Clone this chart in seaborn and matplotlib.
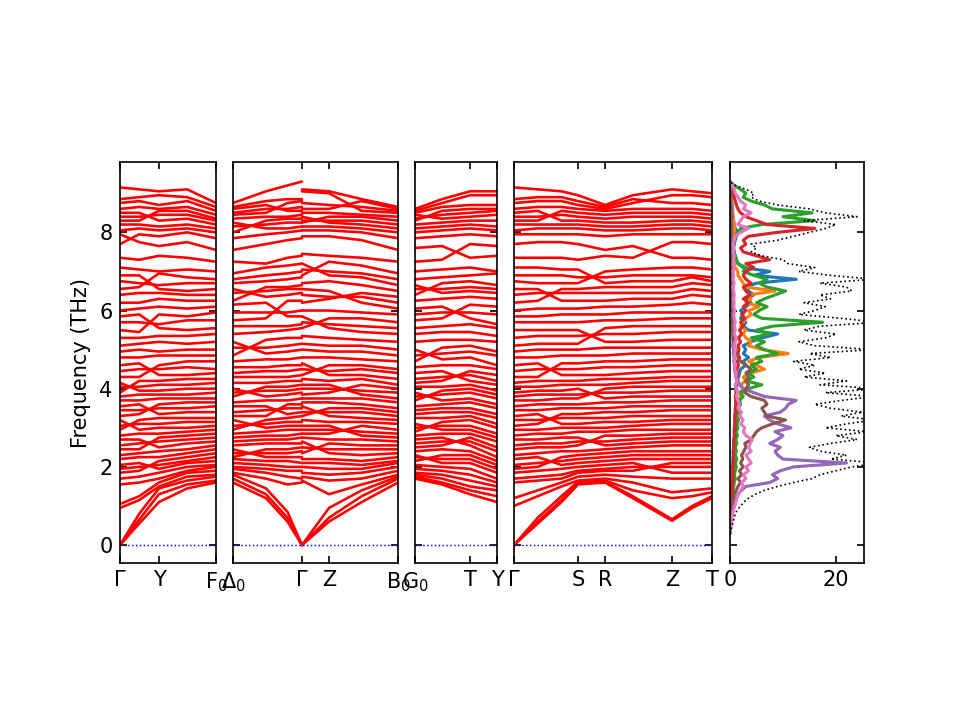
import numpy as np
import pandas as pd
import seaborn as sns
import matplotlib.pyplot as plt

# ---- phonon bands: frequencies (THz) at sampled k-points, one list per k-point ----
# (list position = band index, so crossings are kept)
# panel 1: Gamma -> Y -> F0
p1_k = [0.0, 0.2, 0.406, 0.7, 1.0]
p1_freqs = [
    [0, 0, 0, 0.95, 1.05, 1.55, 1.70, 1.85, 1.95, 2.05, 2.20, 2.30, 2.45, 2.55, 2.70, 2.80, 2.95, 3.05, 3.20, 3.30,
     3.45, 3.55, 3.70, 3.80, 3.90, 4.05, 4.15, 4.30, 4.45, 4.60, 4.80, 4.95, 5.10, 5.30, 5.50, 5.70, 5.85, 6.00,
     6.20, 6.40, 6.55, 6.75, 6.90, 7.10, 7.35, 7.70, 7.95, 8.05, 8.20, 8.30, 8.40, 8.50, 8.60, 8.75, 8.85, 9.15],
    [0.55, 0.65, 0.80, 1.15, 1.25, 1.60, 1.75, 1.90, 2.00, 2.10, 2.25, 2.35, 2.45, 2.60, 2.70, 2.85, 3.20, 3.10,
     2.95, 3.35, 3.45, 3.60, 3.70, 3.85, 4.20, 4.05, 3.95, 4.30, 4.50, 4.65, 4.80, 5.00, 5.15, 5.30, 5.45, 5.70,
     5.90, 6.05, 6.20, 6.45, 6.60, 6.70, 6.90, 7.05, 7.30, 7.95, 7.75, 8.10, 8.20, 8.30, 8.40, 8.50, 8.65, 8.80,
     8.90, 9.10],
    [1.10, 1.30, 1.45, 1.50, 1.60, 1.70, 1.85, 2.15, 2.05, 1.95, 2.25, 2.40, 2.75, 2.65, 2.50, 2.85, 3.25, 3.10,
     3.00, 3.60, 3.50, 3.35, 3.75, 3.85, 4.20, 4.10, 3.95, 4.60, 4.50, 4.35, 4.85, 4.95, 5.20, 5.35, 5.90, 5.65,
     5.55, 6.10, 6.30, 6.45, 6.95, 6.65, 6.55, 7.00, 7.40, 7.90, 7.65, 8.05, 8.15, 8.55, 8.45, 8.30, 8.60, 8.70,
     8.95, 9.05],
    [1.45, 1.55, 1.65, 1.75, 1.85, 1.90, 2.00, 2.25, 2.15, 2.10, 2.35, 2.45, 2.80, 2.70, 2.60, 2.90, 3.25, 3.15,
     3.00, 3.65, 3.50, 3.40, 3.75, 3.85, 4.25, 4.10, 4.00, 4.70, 4.55, 4.35, 4.85, 5.00, 5.15, 5.35, 5.85, 5.75,
     5.50, 6.05, 6.25, 6.40, 6.85, 6.70, 6.50, 7.05, 7.35, 8.00, 7.75, 8.10, 8.20, 8.55, 8.45, 8.35, 8.65, 8.80,
     8.90, 9.10],
    [1.60, 1.65, 1.75, 1.80, 1.90, 2.00, 2.05, 2.35, 2.25, 2.15, 2.45, 2.55, 2.85, 2.75, 2.65, 2.95, 3.25, 3.15,
     3.05, 3.65, 3.55, 3.40, 3.75, 3.90, 4.25, 4.15, 4.00, 4.70, 4.50, 4.40, 4.85, 5.00, 5.20, 5.40, 5.95, 5.75,
     5.55, 6.10, 6.25, 6.40, 6.80, 6.70, 6.55, 7.00, 7.25, 7.85, 7.55, 8.00, 8.10, 8.35, 8.30, 8.20, 8.45, 8.55,
     8.65, 8.75],
]

# panel 2: Delta0 -> Gamma | Gamma -> Z -> B0 (split at Gamma)
p2a_k = [0.0, 0.2, 0.33, 0.418]
p2a_freqs = [
    [1.60, 1.70, 1.80, 1.85, 1.95, 2.00, 2.10, 2.20, 2.25, 2.35, 2.45, 2.55, 2.65, 2.75, 2.85, 2.95, 3.05, 3.20,
     3.30, 3.40, 3.55, 3.65, 3.80, 3.90, 4.00, 4.15, 4.30, 4.40, 4.55, 4.70, 4.85, 5.05, 5.20, 5.40, 5.60, 5.75,
     5.95, 6.15, 6.25, 6.45, 6.55, 6.70, 6.80, 6.95, 7.25, 7.55, 7.85, 8.00, 8.15, 8.25, 8.35, 8.45, 8.50, 8.60,
     8.65, 8.75],
    [1.20, 1.30, 1.45, 1.70, 1.85, 1.95, 2.05, 2.15, 2.45, 2.35, 2.25, 2.60, 2.70, 2.80, 2.90, 3.20, 3.10, 3.00,
     3.30, 3.45, 3.55, 3.70, 4.05, 3.95, 3.80, 4.15, 4.30, 4.45, 4.55, 4.75, 5.25, 5.05, 4.90, 5.45, 5.60, 5.80,
     5.95, 6.20, 6.60, 6.50, 6.35, 6.75, 6.90, 7.10, 7.20, 7.70, 7.95, 8.30, 8.20, 8.10, 8.40, 8.50, 8.60, 8.70,
     8.80, 9.05],
    [0.60, 0.70, 0.85, 1.55, 1.75, 1.90, 2.00, 2.15, 2.45, 2.35, 2.25, 2.60, 2.70, 2.80, 2.95, 3.25, 3.15, 3.05,
     3.60, 3.50, 3.35, 3.70, 4.05, 3.95, 3.85, 4.20, 4.30, 4.45, 4.60, 4.75, 5.30, 5.10, 4.95, 5.50, 5.60, 6.25,
     5.95, 5.85, 6.60, 6.55, 6.40, 6.80, 6.95, 7.15, 7.35, 7.80, 8.00, 8.35, 8.25, 8.10, 8.40, 8.75, 8.60, 8.55,
     8.85, 9.20],
    [0, 0, 0, 1.60, 1.70, 1.90, 2.00, 2.10, 2.50, 2.40, 2.25, 2.60, 2.75, 2.85, 2.95, 3.30, 3.15, 3.05, 3.60,
     3.50, 3.40, 3.75, 4.10, 4.00, 3.90, 4.20, 4.35, 4.50, 4.60, 4.80, 5.30, 5.15, 5.00, 5.55, 5.65, 6.25, 6.00,
     5.85, 6.65, 6.55, 6.45, 6.85, 7.00, 7.20, 7.40, 7.85, 8.05, 8.35, 8.25, 8.15, 8.45, 8.80, 8.65, 8.55, 8.85,
     9.30],
]
p2b_k = [0.418, 0.582, 0.78, 1.0]
p2b_freqs = [
    [0, 0, 0, 1.65, 1.75, 1.85, 2.00, 2.10, 2.20, 2.35, 2.50, 2.65, 2.75, 2.85, 2.95, 3.05, 3.20, 3.30, 3.40,
     3.55, 3.65, 3.75, 3.85, 4.00, 4.10, 4.25, 4.35, 4.50, 4.65, 4.80, 5.00, 5.15, 5.35, 5.55, 5.70, 5.85, 6.00,
     6.20, 6.40, 6.55, 6.70, 6.90, 7.05, 7.20, 7.45, 7.90, 8.05, 8.15, 8.25, 8.30, 8.40, 8.50, 8.60, 8.75, 9.05,
     9.10],
    [0.60, 0.70, 0.95, 1.30, 1.65, 1.80, 1.95, 2.10, 2.20, 2.60, 2.45, 2.35, 2.70, 2.85, 2.95, 3.05, 3.15, 3.50,
     3.40, 3.30, 3.65, 3.75, 3.90, 4.00, 4.10, 4.20, 4.60, 4.45, 4.35, 4.80, 4.95, 5.10, 5.30, 5.80, 5.65, 5.55,
     6.00, 6.30, 6.35, 6.50, 6.75, 7.25, 7.00, 6.90, 7.40, 7.90, 8.05, 8.15, 8.40, 8.30, 8.25, 8.50, 8.60, 8.70,
     9.00, 9.05],
    [1.10, 1.25, 1.40, 1.55, 1.70, 1.85, 1.95, 2.05, 2.15, 2.55, 2.45, 2.30, 2.70, 3.05, 2.90, 2.80, 3.15, 3.50,
     3.40, 3.25, 3.60, 3.75, 4.10, 3.95, 3.85, 4.25, 4.60, 4.50, 4.35, 4.75, 4.95, 5.10, 5.25, 5.80, 5.60, 5.45,
     5.95, 6.45, 6.35, 6.20, 6.65, 7.15, 6.95, 6.85, 7.35, 7.80, 8.00, 8.10, 8.40, 8.30, 8.20, 8.45, 8.80, 8.65,
     8.55, 8.85],
    [1.60, 1.70, 1.75, 1.80, 1.90, 2.00, 2.10, 2.15, 2.25, 2.55, 2.45, 2.35, 2.65, 2.95, 2.85, 2.75, 3.10, 3.40,
     3.30, 3.20, 3.50, 3.65, 4.00, 3.90, 3.75, 4.10, 4.50, 4.40, 4.25, 4.70, 4.85, 5.00, 5.20, 5.70, 5.55, 5.40,
     5.90, 6.35, 6.20, 6.05, 6.50, 6.95, 6.80, 6.65, 7.25, 7.55, 7.85, 8.00, 8.30, 8.20, 8.10, 8.40, 8.60, 8.55,
     8.50, 8.65],
]

# panel 3: G0 -> T -> Y
p3_k = [0.0, 0.33, 0.671, 1.0]
p3_freqs = [
    [1.70, 1.75, 1.80, 1.85, 1.95, 2.05, 2.15, 2.25, 2.30, 2.40, 2.50, 2.60, 2.70, 2.80, 2.90, 3.00, 3.10, 3.25,
     3.35, 3.45, 3.55, 3.70, 3.80, 3.90, 4.05, 4.15, 4.25, 4.40, 4.55, 4.70, 4.85, 5.00, 5.20, 5.40, 5.55, 5.75,
     5.90, 6.05, 6.25, 6.40, 6.55, 6.65, 6.80, 7.00, 7.25, 7.60, 7.85, 8.00, 8.10, 8.20, 8.30, 8.35, 8.45, 8.50,
     8.55, 8.60],
    [1.55, 1.60, 1.70, 1.80, 1.90, 2.00, 2.30, 2.20, 2.10, 2.45, 2.55, 2.65, 2.75, 2.85, 3.15, 3.05, 2.95, 3.25,
     3.40, 3.50, 3.60, 3.95, 3.85, 3.70, 4.05, 4.20, 4.30, 4.45, 4.60, 5.05, 4.90, 4.75, 5.25, 5.45, 5.60, 5.80,
     5.95, 6.10, 6.30, 6.70, 6.55, 6.45, 6.85, 7.05, 7.30, 7.65, 7.90, 8.05, 8.15, 8.25, 8.55, 8.45, 8.35, 8.65,
     8.75, 8.85],
    [1.30, 1.40, 1.50, 1.65, 1.80, 1.95, 2.30, 2.20, 2.10, 2.40, 2.75, 2.65, 2.55, 2.85, 3.20, 3.05, 2.95, 3.30,
     3.40, 3.50, 3.65, 4.00, 3.90, 3.75, 4.10, 4.45, 4.35, 4.20, 4.60, 5.10, 4.95, 4.80, 5.25, 5.45, 5.65, 6.15,
     5.95, 5.80, 6.35, 6.75, 6.60, 6.50, 6.90, 7.10, 7.70, 7.35, 7.95, 8.10, 8.20, 8.30, 8.60, 8.50, 8.40, 8.70,
     8.95, 9.05],
    [1.10, 1.25, 1.40, 1.50, 1.60, 1.70, 2.05, 1.95, 1.85, 2.15, 2.50, 2.40, 2.25, 2.65, 3.00, 2.85, 2.75, 3.10,
     3.25, 3.35, 3.50, 3.85, 3.75, 3.60, 3.95, 4.35, 4.20, 4.10, 4.50, 4.95, 4.85, 4.60, 5.20, 5.35, 5.55, 6.10,
     5.90, 5.65, 6.30, 6.65, 6.55, 6.45, 6.95, 7.00, 7.65, 7.40, 7.90, 8.05, 8.15, 8.30, 8.60, 8.55, 8.45, 8.70,
     8.95, 9.05],
]

# panel 4: Gamma -> S -> R -> Z -> T
p4_k = [0.0, 0.12, 0.24, 0.323, 0.46, 0.6, 0.798, 0.9, 1.0]
p4_freqs = [
    [0, 0, 0, 1.00, 1.20, 1.60, 1.70, 1.85, 1.95, 2.05, 2.20, 2.30, 2.45, 2.55, 2.70, 2.80, 2.95, 3.05, 3.20,
     3.30, 3.45, 3.55, 3.70, 3.80, 3.90, 4.05, 4.15, 4.30, 4.45, 4.60, 4.80, 4.95, 5.10, 5.30, 5.50, 5.70, 5.85,
     6.00, 6.20, 6.40, 6.55, 6.75, 6.90, 7.10, 7.35, 7.70, 7.95, 8.05, 8.20, 8.30, 8.40, 8.50, 8.60, 8.75, 8.85,
     9.15],
    [0.55, 0.60, 0.70, 1.25, 1.40, 1.65, 1.75, 1.90, 2.00, 2.10, 2.25, 2.35, 2.50, 2.60, 2.70, 2.85, 2.95, 3.10,
     3.20, 3.35, 3.45, 3.60, 3.70, 3.85, 3.95, 4.05, 4.20, 4.30, 4.50, 4.65, 4.80, 5.00, 5.15, 5.35, 5.50, 5.70,
     5.85, 6.05, 6.25, 6.45, 6.55, 6.70, 6.90, 7.10, 7.35, 7.75, 7.95, 8.10, 8.20, 8.30, 8.40, 8.55, 8.65, 8.80,
     8.90, 9.10],
    [1.10, 1.15, 1.25, 1.50, 1.60, 1.70, 1.80, 1.95, 2.25, 2.15, 2.05, 2.40, 2.50, 2.60, 2.75, 2.85, 3.00, 3.35,
     3.25, 3.10, 3.50, 3.60, 3.75, 3.85, 3.95, 4.10, 4.20, 4.65, 4.50, 4.35, 4.85, 5.00, 5.15, 5.35, 5.50, 5.70,
     5.90, 6.05, 6.55, 6.45, 6.25, 6.70, 6.90, 7.05, 7.35, 7.75, 7.95, 8.10, 8.20, 8.55, 8.45, 8.30, 8.65, 8.80,
     8.90, 9.05],
    [1.55, 1.60, 1.62, 1.65, 1.75, 1.85, 1.90, 2.00, 2.30, 2.20, 2.10, 2.40, 2.55, 2.65, 2.75, 2.90, 3.00, 3.35,
     3.25, 3.10, 3.50, 3.60, 3.75, 3.85, 4.00, 4.10, 4.20, 4.65, 4.50, 4.35, 4.85, 5.00, 5.15, 5.35, 5.50, 5.70,
     5.90, 6.05, 6.55, 6.45, 6.25, 6.70, 6.85, 7.05, 7.30, 7.70, 7.95, 8.10, 8.20, 8.50, 8.40, 8.30, 8.60, 8.70,
     8.80, 8.95],
    [1.60, 1.62, 1.65, 1.70, 1.80, 1.90, 1.95, 2.05, 2.35, 2.25, 2.15, 2.45, 2.80, 2.65, 2.55, 2.90, 3.00, 3.40,
     3.25, 3.15, 3.50, 3.65, 4.00, 3.90, 3.75, 4.10, 4.25, 4.70, 4.55, 4.35, 4.85, 5.05, 5.55, 5.40, 5.20, 5.75,
     5.90, 6.10, 6.60, 6.45, 6.25, 7.00, 6.85, 6.70, 7.40, 7.55, 7.90, 8.05, 8.15, 8.45, 8.35, 8.25, 8.55, 8.60,
     8.65, 8.70],
    [1.20, 1.25, 1.40, 1.60, 1.75, 1.90, 2.00, 2.10, 2.40, 2.30, 2.20, 2.50, 2.80, 2.70, 2.60, 2.95, 3.05, 3.40,
     3.30, 3.15, 3.55, 3.65, 4.05, 3.90, 3.80, 4.15, 4.25, 4.70, 4.55, 4.40, 4.90, 5.05, 5.60, 5.40, 5.20, 5.75,
     5.95, 6.10, 6.60, 6.45, 6.30, 7.05, 6.90, 6.75, 7.35, 7.65, 7.95, 8.05, 8.15, 8.50, 8.40, 8.25, 8.60, 8.75,
     8.85, 8.95],
    [0.62, 0.66, 1.20, 1.35, 1.70, 2.10, 2.00, 1.85, 2.40, 2.30, 2.20, 2.55, 2.85, 2.75, 2.65, 2.95, 3.10, 3.45,
     3.30, 3.20, 3.55, 3.70, 4.05, 3.95, 3.80, 4.20, 4.30, 4.75, 4.60, 4.45, 4.90, 5.05, 5.60, 5.45, 5.25, 5.80,
     5.95, 6.15, 6.60, 6.45, 6.30, 7.10, 6.90, 6.75, 7.75, 7.35, 7.95, 8.10, 8.20, 8.50, 8.40, 8.30, 8.60, 8.95,
     8.75, 9.10],
    [0.95, 1.00, 1.25, 1.40, 1.70, 2.10, 2.00, 1.85, 2.40, 2.30, 2.20, 2.55, 2.85, 2.75, 2.65, 2.95, 3.10, 3.45,
     3.30, 3.20, 3.55, 3.70, 4.05, 3.95, 3.80, 4.20, 4.30, 4.75, 4.60, 4.45, 4.90, 5.05, 5.60, 5.45, 5.25, 5.80,
     5.95, 6.20, 6.70, 6.55, 6.40, 7.10, 6.90, 6.85, 7.75, 7.35, 7.95, 8.10, 8.20, 8.50, 8.40, 8.30, 8.60, 8.95,
     8.75, 9.05],
    [1.20, 1.25, 1.35, 1.45, 1.70, 2.10, 2.00, 1.85, 2.40, 2.30, 2.20, 2.55, 2.85, 2.75, 2.65, 2.95, 3.10, 3.45,
     3.30, 3.20, 3.55, 3.70, 4.05, 3.95, 3.80, 4.20, 4.30, 4.75, 4.60, 4.45, 4.90, 5.05, 5.60, 5.45, 5.25, 5.80,
     5.95, 6.15, 6.65, 6.50, 6.35, 7.05, 6.85, 6.75, 7.70, 7.30, 7.95, 8.05, 8.15, 8.45, 8.35, 8.25, 8.55, 8.90,
     8.70, 9.00],
]

# tick positions (fraction of each panel) and labels
p1_ticks, p1_labels = [0.0, 0.406, 1.0], ["Γ", "Y", "F$_0$"]
p2_ticks, p2_labels = [0.0, 0.418, 0.582, 1.0], ["Δ$_0$", "Γ", "Z", "B$_0$"]
p3_ticks, p3_labels = [0.0, 0.671, 1.0], ["G$_0$", "T", "Y"]
p4_ticks, p4_labels = [0.0, 0.323, 0.46, 0.798, 1.0], ["Γ", "S", "R", "Z", "T"]

# ---- DOS: sampled every 0.1 THz from 0.3 to 9.3 ----
dos_freq = np.round(np.arange(0.3, 9.31, 0.1), 2)
total_dos = [
    0.0, 0.2, 0.4, 0.6, 0.8, 1.0, 1.4, 2.0, 2.6, 3.5,
    4.8, 6.5, 9.0, 12.0, 15.5, 17.0, 20.0, 23.0, 28.0, 19.0,
    22.0, 17.0, 15.0, 19.0, 24.0, 20.0, 26.0, 18.0, 22.0, 27.0,
    21.0, 25.0, 19.0, 16.0, 21.0, 27.0, 18.0, 28.0, 17.0, 22.0,
    14.0, 18.0, 13.0, 16.0, 12.0, 19.0, 15.0, 27.0, 16.0, 13.0,
    18.0, 20.0, 14.0, 17.0, 28.0, 21.0, 13.0, 16.0, 18.0, 14.0,
    19.0, 17.0, 23.0, 22.0, 17.0, 27.0, 19.0, 13.0, 16.0, 11.0,
    10.0, 6.0, 4.0, 5.0, 4.0, 9.0, 12.0, 15.0, 18.0, 20.0,
    14.0, 24.0, 18.0, 15.0, 9.0, 5.5, 4.0, 4.5, 3.0, 1.0,
    0.0]
pdos_blue = [
    0.0, 0.0, 0.0, 0.1, 0.1, 0.1, 0.1, 0.2, 0.2, 0.2,
    0.3, 0.3, 0.3, 0.4, 0.4, 0.4, 0.5, 0.5, 0.5, 0.6,
    0.6, 0.6, 0.7, 0.7, 0.7, 0.8, 0.8, 0.8, 0.9, 0.9,
    0.9, 1.0, 1.0, 1.1, 1.1, 1.2, 1.2, 1.0, 1.3, 1.4,
    1.6, 1.8, 2.0, 3.0, 2.5, 3.5, 2.5, 3.0, 2.5, 4.0,
    6.0, 9.0, 3.5, 2.5, 3.0, 2.0, 2.5, 2.0, 3.0, 4.0,
    3.0, 4.5, 3.5, 3.0, 5.0, 12.5, 4.5, 7.5, 2.5, 1.5,
    1.2, 1.0, 0.8, 0.7, 0.8, 1.0, 1.2, 1.5, 1.0, 0.8,
    0.7, 0.6, 0.5, 0.5, 0.4, 0.3, 0.3, 0.2, 0.1, 0.1,
    0.0]
pdos_orange = [
    0.0, 0.0, 0.0, 0.1, 0.1, 0.1, 0.1, 0.2, 0.2, 0.2,
    0.3, 0.3, 0.4, 0.4, 0.5, 0.5, 0.6, 0.6, 0.7, 0.7,
    0.8, 0.8, 0.9, 0.9, 1.0, 1.0, 1.1, 1.1, 1.2, 1.2,
    1.3, 1.4, 1.5, 1.8, 1.6, 2.0, 1.8, 2.5, 2.0, 3.0,
    2.5, 4.0, 6.5, 5.0, 3.5, 5.5, 11.0, 6.0, 3.5, 4.0,
    3.0, 2.5, 3.0, 2.0, 2.5, 3.0, 4.0, 3.5, 5.5, 3.0,
    4.0, 3.5, 8.5, 3.0, 2.5, 2.0, 1.5, 1.5, 1.0, 0.8,
    0.7, 0.6, 0.5, 0.5, 0.5, 0.6, 0.7, 0.8, 0.9, 0.8,
    0.7, 0.6, 0.5, 0.4, 0.4, 0.3, 0.2, 0.2, 0.1, 0.1,
    0.0]
pdos_green = [
    0.0, 0.0, 0.1, 0.1, 0.1, 0.2, 0.2, 0.3, 0.3, 0.4,
    0.5, 0.6, 0.7, 0.8, 1.0, 0.8, 1.0, 1.2, 1.0, 1.3,
    1.0, 1.2, 1.0, 1.3, 1.1, 1.4, 1.2, 1.5, 1.3, 1.6,
    1.4, 1.8, 1.5, 2.0, 1.8, 2.5, 2.0, 3.5, 6.0, 3.0,
    4.5, 3.5, 5.0, 4.0, 6.0, 5.0, 9.0, 6.5, 5.0, 6.5,
    4.0, 7.5, 5.0, 8.0, 17.5, 6.0, 4.5, 5.5, 7.0, 5.0,
    6.5, 8.5, 10.5, 7.0, 5.5, 7.0, 4.5, 2.5, 3.0, 1.5,
    1.2, 1.0, 0.6, 0.5, 0.6, 0.8, 1.0, 1.5, 2.0, 6.0,
    16.0, 10.0, 15.5, 8.0, 6.5, 4.0, 2.5, 3.0, 2.0, 0.8,
    0.0]
pdos_red = [
    0.0, 0.0, 0.1, 0.1, 0.1, 0.1, 0.2, 0.2, 0.2, 0.3,
    0.3, 0.4, 0.4, 0.5, 0.5, 0.6, 0.5, 0.6, 0.7, 0.6,
    0.7, 0.6, 0.8, 0.7, 0.8, 0.9, 0.8, 1.0, 0.9, 1.0,
    0.9, 1.1, 1.0, 1.2, 1.1, 1.0, 1.2, 1.3, 1.1, 1.4,
    1.2, 1.5, 1.3, 1.6, 1.4, 1.8, 1.5, 1.7, 1.5, 2.0,
    1.6, 2.2, 1.8, 2.5, 2.0, 2.8, 2.2, 3.0, 2.5, 3.5,
    2.5, 3.8, 3.0, 2.5, 4.0, 3.0, 2.5, 3.0, 4.5, 3.0,
    7.5, 5.0, 2.5, 2.0, 3.0, 2.5, 3.5, 9.0, 16.0, 7.0,
    5.0, 3.0, 2.0, 1.5, 1.2, 1.0, 0.8, 0.6, 0.4, 0.2,
    0.0]
pdos_purple = [
    0.0, 0.0, 0.1, 0.1, 0.2, 0.3, 0.4, 0.6, 0.8, 1.0,
    1.5, 2.2, 3.0, 7.5, 9.0, 8.0, 9.5, 12.0, 22.0, 10.0,
    9.0, 8.5, 9.5, 7.5, 9.0, 10.0, 8.5, 11.5, 9.0, 7.5,
    6.5, 9.5, 10.5, 11.0, 12.5, 6.5, 4.5, 2.5, 1.8, 1.5,
    1.2, 1.0, 0.8, 0.9, 0.7, 0.8, 0.6, 0.7, 0.5, 0.6,
    0.5, 0.6, 0.4, 0.5, 0.4, 0.5, 0.4, 0.4, 0.5, 0.3,
    0.4, 0.3, 0.4, 0.3, 0.4, 0.3, 0.3, 0.2, 0.3, 0.2,
    0.2, 0.1, 0.1, 0.1, 0.1, 0.2, 0.2, 0.3, 0.3, 0.4,
    0.3, 0.4, 0.3, 0.3, 0.2, 0.2, 0.1, 0.1, 0.1, 0.0,
    0.0]
pdos_brown = [
    0.0, 0.0, 0.1, 0.1, 0.1, 0.2, 0.3, 0.4, 0.5, 0.6,
    0.8, 1.2, 1.5, 2.0, 1.5, 2.2, 1.8, 2.5, 2.0, 2.4,
    2.2, 2.6, 3.0, 2.8, 4.0, 4.5, 5.0, 6.0, 8.0, 10.5,
    7.0, 6.5, 6.0, 7.0, 6.5, 4.0, 2.8, 3.0, 3.5, 3.0,
    3.5, 3.0, 4.0, 3.0, 2.0, 1.5, 1.2, 1.0, 0.8, 0.7,
    0.6, 0.5, 0.6, 0.5, 0.4, 0.5, 0.4, 0.4, 0.3, 0.4,
    0.3, 0.4, 0.3, 0.3, 0.3, 0.2, 0.3, 0.2, 0.2, 0.2,
    0.2, 0.1, 0.1, 0.1, 0.1, 0.1, 0.2, 0.2, 0.2, 0.3,
    0.2, 0.3, 0.2, 0.2, 0.1, 0.1, 0.1, 0.1, 0.0, 0.0,
    0.0]
pdos_pink = [
    0.0, 0.1, 0.2, 0.3, 0.4, 0.5, 0.7, 0.9, 1.1, 1.3,
    1.6, 2.0, 2.5, 2.2, 3.0, 2.5, 3.5, 3.0, 4.0, 3.5,
    3.0, 4.0, 3.5, 3.8, 4.2, 3.0, 2.5, 2.8, 2.0, 2.5,
    1.8, 2.2, 1.5, 1.8, 1.5, 1.2, 1.5, 1.2, 1.0, 1.3,
    1.0, 1.2, 0.9, 1.0, 0.8, 1.0, 0.8, 1.0, 0.8, 1.0,
    1.2, 0.8, 1.0, 0.8, 1.0, 0.8, 0.7, 0.9, 0.7, 0.8,
    0.7, 0.8, 0.7, 0.6, 0.8, 0.6, 0.7, 0.6, 0.8, 0.6,
    0.7, 0.8, 0.6, 0.7, 0.6, 0.8, 1.0, 2.0, 3.5, 1.5,
    2.0, 2.5, 4.0, 2.5, 3.0, 2.0, 1.5, 1.0, 0.8, 0.4,
    0.0]
pdos_list = [pdos_blue, pdos_orange, pdos_green, pdos_red, pdos_purple, pdos_brown, pdos_pink]
pdos_colors = ["tab:blue", "tab:orange", "tab:green", "tab:red", "tab:purple", "tab:brown", "tab:pink"]


def band_frame(segments):
    rows = []
    for seg_id, (kpts, freqs) in enumerate(segments):
        for k, fl in zip(kpts, freqs):
            for b, f in enumerate(fl):
                rows.append((f"{seg_id}-{b}", k, f))
    return pd.DataFrame(rows, columns=["unit", "k", "freq"])


sns.set_style("ticks", {"xtick.direction": "in", "ytick.direction": "in",
                        "axes.edgecolor": "black", "xtick.color": "black",
                        "ytick.color": "black", "text.color": "black",
                        "axes.labelcolor": "black"})
plt.rcParams["font.family"] = ["DejaVu Sans"]

fig = plt.figure(figsize=(6.4, 4.8))
bot, hgt = 0.218, 0.557
rects = [(0.125, 0.1), (0.2427, 0.1719), (0.4323, 0.0854), (0.5354, 0.2063)]
panels = [
    ([(p1_k, p1_freqs)], p1_ticks, p1_labels),
    ([(p2a_k, p2a_freqs), (p2b_k, p2b_freqs)], p2_ticks, p2_labels),
    ([(p3_k, p3_freqs)], p3_ticks, p3_labels),
    ([(p4_k, p4_freqs)], p4_ticks, p4_labels),
]
ylim = (-0.46, 9.8)

for i, ((left, w), (segs, ticks, labels)) in enumerate(zip(rects, panels)):
    ax = fig.add_axes([left, bot, w, hgt])
    df = band_frame(segs)
    sns.lineplot(data=df, x="k", y="freq", units="unit", estimator=None, sort=False,
                 color="red", lw=1.25, ax=ax, legend=False)
    ax.axhline(0, color="b", ls=":", lw=0.7)
    ax.set_xlim(0, 1)
    ax.set_ylim(*ylim)
    ax.set_xticks(ticks)
    ax.set_xticklabels(labels)
    ax.set_yticks([0, 2, 4, 6, 8])
    ax.set_xlabel("")
    ax.tick_params(direction="in", top=True, right=True, labelsize=10, colors="black")
    if i == 0:
        ax.set_ylabel("Frequency (THz)", fontsize=10)
    else:
        ax.set_ylabel("")
        ax.tick_params(labelleft=False)
    for s in ax.spines.values():
        s.set_visible(True)
        s.set_color("black")

# DOS panel
axd = fig.add_axes([0.7604, bot, 0.1396, hgt])
for vals, c in zip(pdos_list, pdos_colors):
    sns.lineplot(x=vals, y=dos_freq, sort=False, estimator=None, color=c, lw=1.5, ax=axd)
sns.lineplot(x=total_dos, y=dos_freq, sort=False, estimator=None, color="k", lw=0.8,
             linestyle=":", ax=axd)
axd.set_xlim(0, 25.3)
axd.set_ylim(*ylim)
axd.set_xticks([0, 20])
axd.set_yticks([0, 2, 4, 6, 8])
axd.tick_params(direction="in", top=True, right=True, labelleft=False, labelsize=10, colors="black")
for s in axd.spines.values():
    s.set_visible(True)
    s.set_color("black")

fig.savefig("out.png", dpi=150)
